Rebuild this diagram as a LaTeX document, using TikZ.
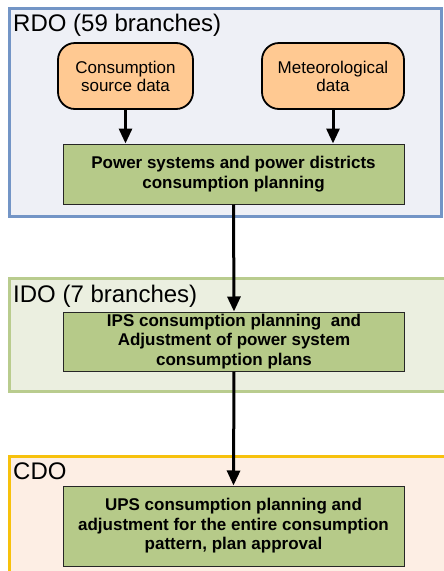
\documentclass[tikz,border=0pt]{standalone}
\usepackage{fontspec}
\setmainfont{Liberation Sans}
\usetikzlibrary{arrows.meta}
\definecolor{rdoline}{HTML}{7395C6}
\definecolor{rdofill}{HTML}{EEF0F6}
\definecolor{idoline}{HTML}{B9CC8E}
\definecolor{idofill}{HTML}{EBEFE0}
\definecolor{cdoline}{HTML}{F7C10C}
\definecolor{cdofill}{HTML}{FDEEE4}
\definecolor{srcfill}{HTML}{FFC992}
\definecolor{stepfill}{HTML}{B6CA89}
\tikzset{
  panel/.style={line width=3pt},
  paneltitle/.style={anchor=base west, inner sep=0pt, font=\fontsize{24}{28}\selectfont},
  srcbox/.style={draw=black, fill=srcfill, line width=1.8pt, rounded corners=17pt,
    minimum width=135pt, minimum height=66pt, align=center, inner sep=0pt,
    font=\fontsize{17}{18}\selectfont},
  stagebox/.style={draw=black!85, fill=stepfill, line width=1pt,
    minimum width=341pt, align=center, inner sep=0pt,
    font=\fontsize{17}{19.5}\selectfont\bfseries},
  flow/.style={line width=3pt, -{Triangle[length=15pt,width=13pt]}}
}
\begin{document}
\begin{tikzpicture}[x=1pt,y=-1pt]
\useasboundingbox (0,0) rectangle (444,571);
% organisational levels
\draw[panel, draw=rdoline, fill=rdofill] (9,8) rectangle (441,216);
\draw[panel, draw=idoline, fill=idofill] (9,278) rectangle (448,391);
\draw[panel, draw=cdoline, fill=cdofill] (9,456) rectangle (448,580);
\node[paneltitle] (trdo) at (13,31) {RDO (59 branches)};
\node[paneltitle] (tido) at (13,302) {IDO (7 branches)};
\node[paneltitle] (tcdo) at (13,479) {CDO};
% input data
\node[srcbox] (cons) at (125.5,76) {Consumption\\source data};
\node[srcbox, minimum width=142pt] (met) at (333,76) {Meteorological\\data};
% planning stages
\node[stagebox, minimum height=60pt] (rdo) at (233.5,174) {Power systems and power districts\\consumption planning};
\node[stagebox, minimum height=59pt] (ido) at (234,341.5) {IPS consumption planning\ \ and\\Adjustment of power system\\consumption plans};
\node[stagebox, minimum height=80pt] (cdo) at (233.5,526) {UPS consumption planning and\\adjustment for the entire consumption\\pattern, plan approval};
% flow
\draw[flow] (cons.south) -- (cons.south |- rdo.north);
\draw[flow] (met.south) -- (met.south |- rdo.north);
\draw[flow] (rdo.south) -- (ido.north);
\draw[flow] (ido.south) -- (cdo.north);
\end{tikzpicture}
\end{document}
